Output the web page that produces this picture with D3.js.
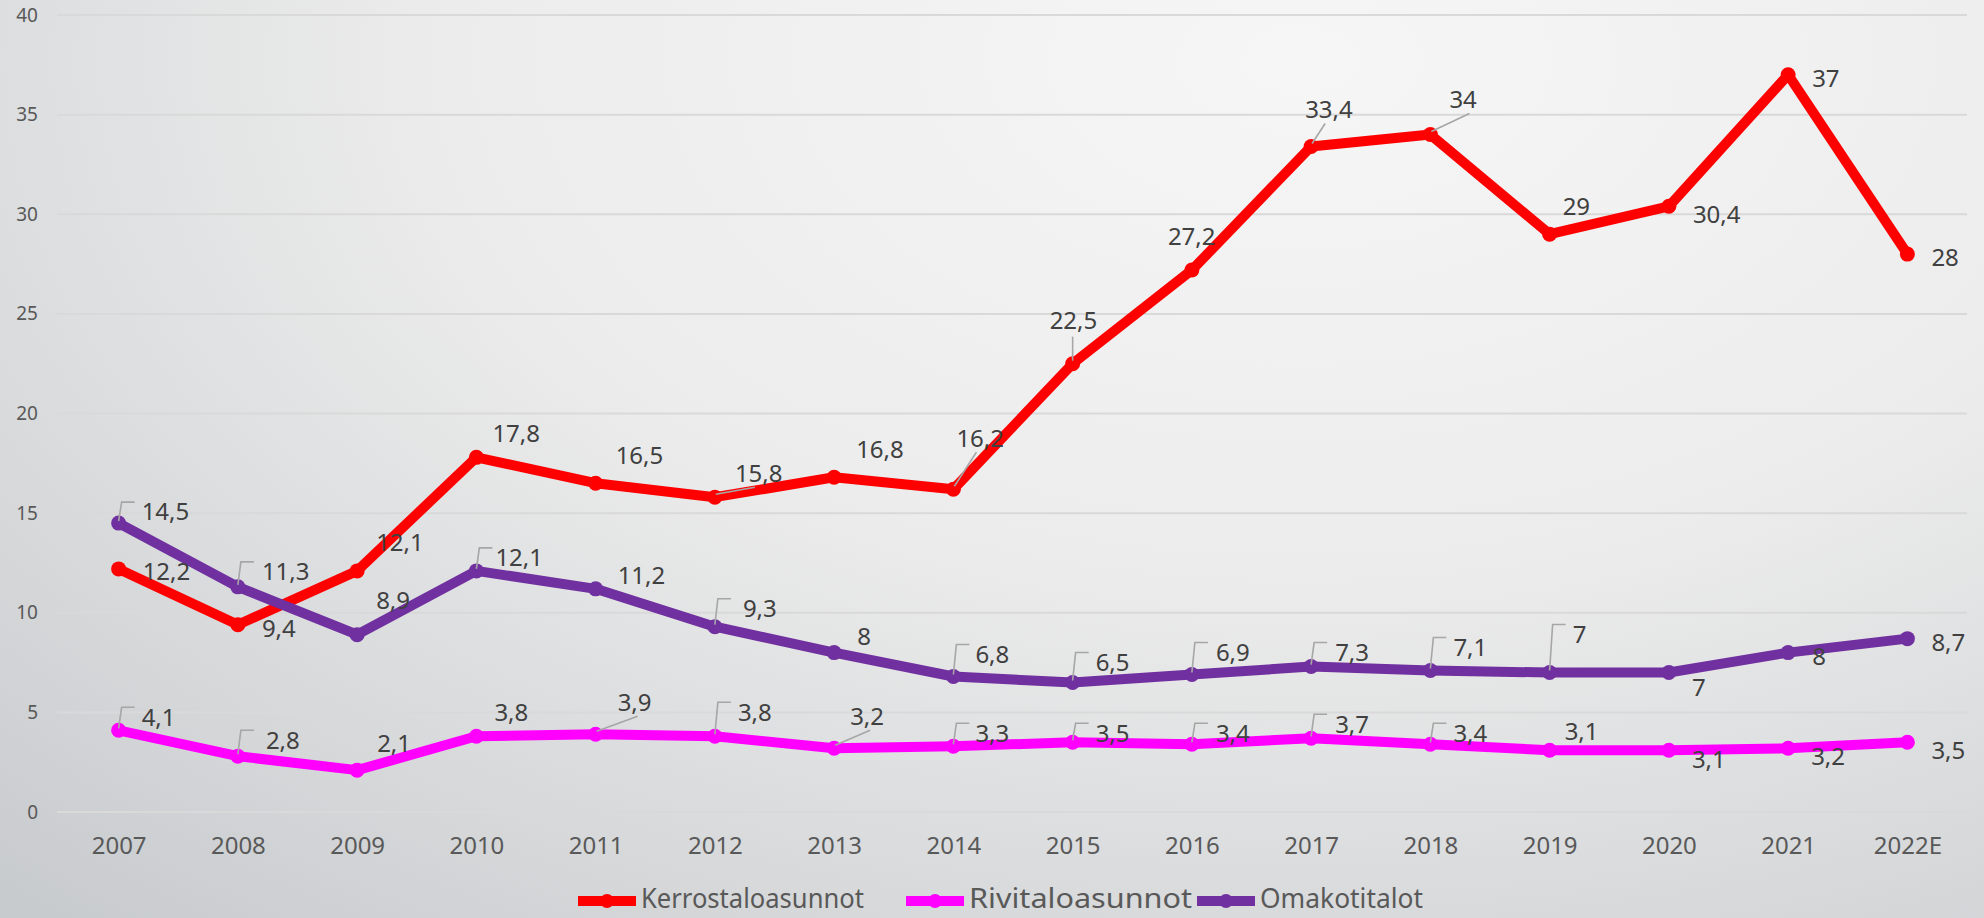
<!DOCTYPE html>
<html>
<head>
<meta charset="utf-8">
<script src="https://cdn.jsdelivr.net/npm/d3@7"></script>
<style>
  html, body { margin: 0; padding: 0; overflow: hidden; }
  svg { display: block; }
</style>
</head>
<body>
<div id="chart"></div>
<script>
/* CONSTANTS AND GLOBALS */
const width = 1984,
  height = 918;

// categories and series values
const years = ["2007", "2008", "2009", "2010", "2011", "2012", "2013", "2014",
  "2015", "2016", "2017", "2018", "2019", "2020", "2021", "2022E"];
const kerrostalo = [12.2, 9.4, 12.1, 17.8, 16.5, 15.8, 16.8, 16.2, 22.5, 27.2, 33.4, 34, 29, 30.4, 37, 28];
const rivitalo = [4.1, 2.8, 2.1, 3.8, 3.9, 3.8, 3.2, 3.3, 3.5, 3.4, 3.7, 3.4, 3.1, 3.1, 3.2, 3.5];
const omakoti = [14.5, 11.3, 8.9, 12.1, 11.2, 9.3, 8, 6.8, 6.5, 6.9, 7.3, 7.1, 7, 7, 8, 8.7];
const yTicks = [0, 5, 10, 15, 20, 25, 30, 35, 40];

// label placement per point: [dx, dy, leader] (b = bracket, d = diagonal, v = vertical)
const redLabelPos = [[24, 3, ""], [24, 4, ""], [19, -28, ""], [16, -24, ""], [20, -28, ""], [20, -24, "d"],
  [22, -28, ""], [3, -51, "d"], [-23, -43, "v"], [-24, -33, ""], [-6, -37, "d"], [19, -35, "d"],
  [13, -28, ""], [24, 8, ""], [24, 4, ""], [24, 3, ""]];
const pinkLabelPos = [[23, -13, "b"], [28, -16, "b"], [20, -27, ""], [18, -24, ""], [22, -32, "d"], [23, -24, "b"],
  [16, -32, "d"], [22, -13, "b"], [23, -9, "b"], [24, -11, "b"], [24, -14, "b"], [23, -11, "b"],
  [15, -19, ""], [23, 9, ""], [23, 8, ""], [24, 8, ""]];
const purpleLabelPos = [[23, -11, "b"], [24, -15, "b"], [19, -34, ""], [19, -13, "b"], [22, -13, ""], [28, -18, "b"],
  [23, -16, ""], [22, -22, "b"], [23, -20, "b"], [24, -22, "b"], [24, -14, "b"], [23, -23, "b"],
  [23, -38, "b"], [23, 15, ""], [24, 4, ""], [24, 4, ""]];

const series = [
  { name: "Kerrostaloasunnot", values: kerrostalo, color: "#ff0000", labels: redLabelPos },
  { name: "Rivitaloasunnot", values: rivitalo, color: "#ff00ff", labels: pinkLabelPos },
  { name: "Omakotitalot", values: omakoti, color: "#7030a0", labels: purpleLabelPos }
];
// drawing order: purple goes over red
const drawOrder = [0, 1, 2];

const fmt = v => String(v).replace(".", ",");

/* SVG */
const svg = d3.select("#chart")
  .append("svg")
  .attr("width", width)
  .attr("height", height);

const defs = svg.append("defs");
const bg = defs.append("radialGradient")
  .attr("id", "bg")
  .attr("gradientUnits", "userSpaceOnUse")
  .attr("cx", 1300).attr("cy", 60).attr("r", 1900)
  .attr("gradientTransform", "translate(1300,60) scale(1,0.6) translate(-1300,-60)");
bg.append("stop").attr("offset", 0).attr("stop-color", "#f6f6f6");
bg.append("stop").attr("offset", 0.45).attr("stop-color", "#ececec");
bg.append("stop").attr("offset", 1).attr("stop-color", "#c8cbce");

svg.append("rect")
  .attr("width", width)
  .attr("height", height)
  .attr("fill", "url(#bg)");

/* SCALES */
const xScale = d3.scalePoint()
  .domain(years)
  .range([59, 1967])
  .padding(0.5);

const yScale = d3.scaleLinear()
  .domain([0, 40])
  .range([812, 15]);

/* GRID + AXES */
svg.append("g")
  .selectAll("line")
  .data(yTicks)
  .join("line")
  .attr("x1", 57)
  .attr("x2", 1967)
  .attr("y1", d => yScale(d))
  .attr("y2", d => yScale(d))
  .attr("stroke", "#d9d9d9")
  .attr("stroke-width", 2);

const yAxis = d3.axisLeft(yScale).tickValues(yTicks).tickSize(0).tickPadding(0);
svg.append("g")
  .attr("transform", "translate(38,0)")
  .call(yAxis)
  .call(g => g.select(".domain").remove())
  .selectAll("text")
  .attr("font-family", "'Noto Sans', sans-serif")
  .attr("font-size", 19)
  .attr("fill", "#595959");

const xAxis = d3.axisBottom(xScale).tickSize(0).tickPadding(0);
svg.append("g")
  .attr("transform", "translate(0,837)")
  .call(xAxis)
  .call(g => g.select(".domain").remove())
  .selectAll("text")
  .attr("font-family", "'Noto Sans', sans-serif")
  .attr("font-size", 24)
  .attr("fill", "#595959");

/* LINES */
const line = d3.line()
  .x((d, i) => xScale(years[i]))
  .y(d => yScale(d));

drawOrder.forEach(k => {
  const s = series[k];
  const g = svg.append("g");
  g.append("path")
    .datum(s.values)
    .attr("d", line)
    .attr("fill", "none")
    .attr("stroke", s.color)
    .attr("stroke-width", 10)
    .attr("stroke-linejoin", "round");
  g.selectAll("circle")
    .data(s.values)
    .join("circle")
    .attr("cx", (d, i) => xScale(years[i]))
    .attr("cy", d => yScale(d))
    .attr("r", 7.5)
    .attr("fill", s.color);
});

/* DATA LABELS */
series.forEach(s => {
  const g = svg.append("g");
  s.values.forEach((v, i) => {
    const px = xScale(years[i]), py = yScale(v);
    const [dx, dy, leader] = s.labels[i];
    const lx = px + dx, ly = py + dy;
    const top = ly - 10;
    if (leader === "b") {
      g.append("path")
        .attr("d", `M${px},${py - 2} L${px + 3},${top} L${px + 16},${top}`)
        .attr("fill", "none")
        .attr("stroke", "#a6a6a6")
        .attr("stroke-width", 1.6);
    } else if (leader === "d") {
      g.append("line")
        .attr("x1", px + 1).attr("y1", py - 3)
        .attr("x2", lx + 20).attr("y2", ly + 14)
        .attr("stroke", "#a6a6a6")
        .attr("stroke-width", 1.6);
    } else if (leader === "v") {
      g.append("line")
        .attr("x1", px).attr("y1", py - 3)
        .attr("x2", px).attr("y2", ly + 16)
        .attr("stroke", "#a6a6a6")
        .attr("stroke-width", 1.6);
    }
    g.append("text")
      .attr("x", lx)
      .attr("y", ly)
      .attr("dy", "0.35em")
      .attr("font-family", "'Noto Sans', sans-serif")
      .attr("font-size", 24)
      .attr("fill", "#404040")
      .text(fmt(v));
  });
});

/* LEGEND */
const legendX = [578, 906, 1197];
const legendText = [223, 223, 163];
const legend = svg.append("g");
series.forEach((s, k) => {
  const x0 = legendX[k], y0 = 901;
  legend.append("line")
    .attr("x1", x0).attr("x2", x0 + 58)
    .attr("y1", y0).attr("y2", y0)
    .attr("stroke", s.color)
    .attr("stroke-width", 10);
  legend.append("circle")
    .attr("cx", x0 + 29).attr("cy", y0)
    .attr("r", 7)
    .attr("fill", s.color);
  legend.append("text")
    .attr("x", x0 + 63)
    .attr("y", 908)
    .attr("font-family", "'Noto Sans', sans-serif")
    .attr("font-size", 28)
    .attr("textLength", legendText[k])
    .attr("lengthAdjust", "spacingAndGlyphs")
    .attr("fill", "#595959")
    .text(s.name);
});
</script>
</body>
</html>
